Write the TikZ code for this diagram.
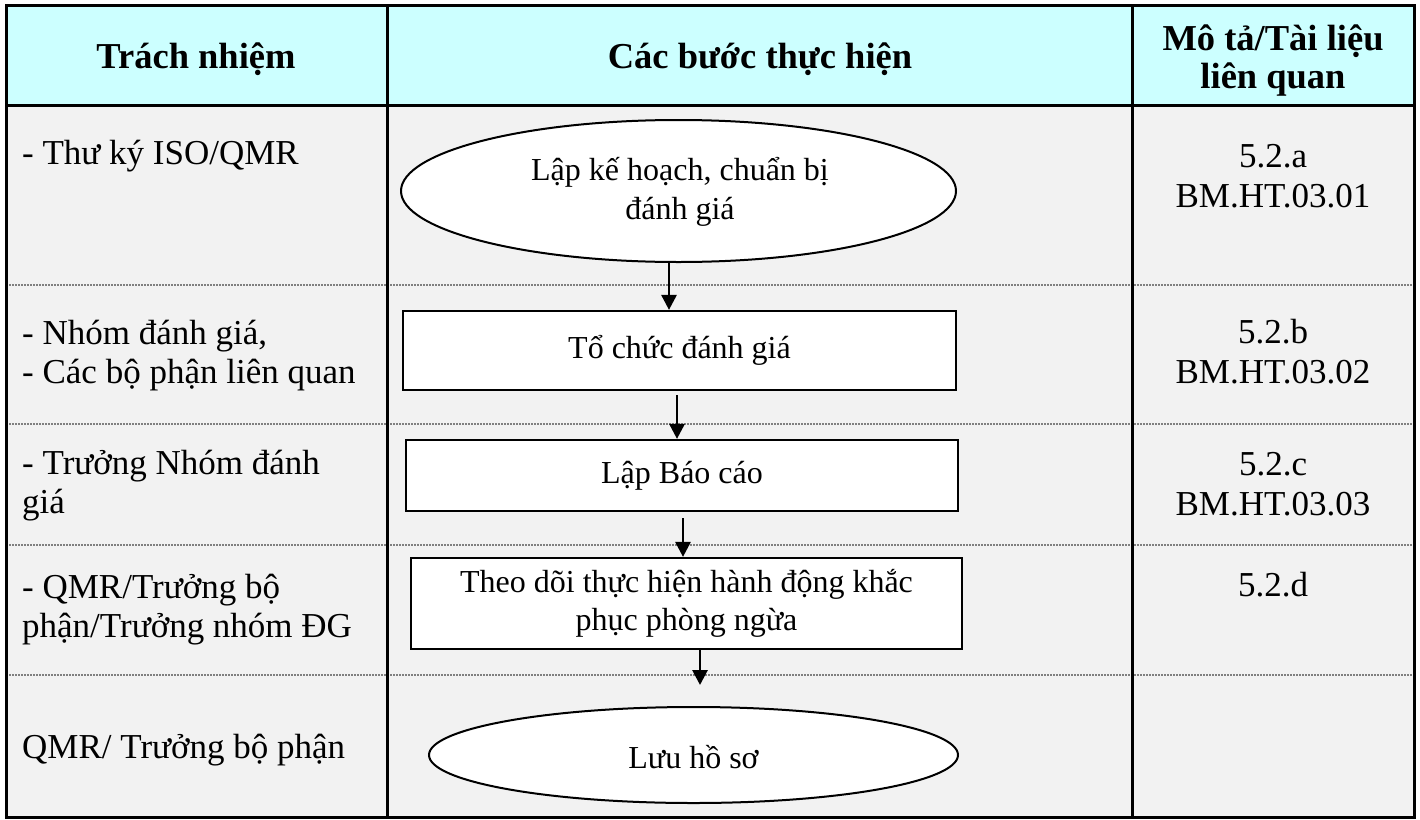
\documentclass[tikz,border=0pt]{standalone}
\usepackage{fontspec}
\setmainfont{Liberation Serif}
\usetikzlibrary{shapes.geometric,arrows.meta}
\definecolor{hdrfill}{HTML}{CCFFFF}
\definecolor{bodyfill}{HTML}{F2F2F2}
\definecolor{sepgray}{HTML}{808080}
\tikzset{
  body/.style={font=\fontsize{35}{39}\selectfont, inner sep=0pt},
  lefttxt/.style={body, anchor=west, align=left},
  righttxt/.style={body, align=center, font=\fontsize{35}{40}\selectfont},
  hdr/.style={font=\fontsize{36.5}{38}\selectfont\bfseries, align=center, inner sep=0pt},
  stepbox/.style={draw=black, line width=2.2pt, fill=white, font=\fontsize{32}{38}\selectfont, align=center, inner sep=0pt},
  oval/.style={draw=black, line width=2pt, fill=white, ellipse, inner sep=0pt},
  ovaltxt/.style={font=\fontsize{32}{39}\selectfont, align=center, inner sep=0pt},
  arr/.style={line width=2.8pt, -{Triangle[width=15pt,length=15pt]}},
  sep/.style={draw=sepgray, line width=1.5pt, dash pattern=on 1.5pt off 1.5pt},
  frame/.style={line width=3pt, draw=black}
}
\begin{document}
\begin{tikzpicture}[x=1pt,y=-1pt]
\useasboundingbox (0,0) rectangle (1420,819);
% backgrounds
\fill[bodyfill] (6,105) rectangle (1414,817);
\fill[hdrfill] (6,5) rectangle (1414,105);
% separators
\foreach \yy in {285,424,545,675} \draw[sep] (6,\yy) -- (1414,\yy);
% frame
\draw[frame] (6,5) rectangle (1414,817);
\draw[frame] (6,105) -- (1414,105);
\draw[frame] (387,5) -- (387,817);
\draw[frame] (1132,5) -- (1132,817);
% header
\node[hdr] (h1) at (196,59) {Trách nhiệm};
\node[hdr] (h2) at (760,59) {Các bước thực hiện};
\node[hdr] (h3) at (1273,61) {Mô tả/Tài liệu\\liên quan};
% left column
\node[lefttxt] (r1) at (22,156) {- Thư ký ISO/QMR};
\node[lefttxt] (r2) at (22,356) {- Nhóm đánh giá,\\- Các bộ phận liên quan};
\node[lefttxt] (r3) at (22,486) {- Trưởng Nhóm đánh\\giá};
\node[lefttxt] (r4) at (22,610) {- QMR/Trưởng bộ\\phận/Trưởng nhóm ĐG};
\node[lefttxt] (r5) at (22,750) {QMR/ Trưởng bộ phận};
% right column
\node[righttxt] (d1) at (1273,176) {5.2.a\\BM.HT.03.01};
\node[righttxt] (d2) at (1273,352) {5.2.b\\BM.HT.03.02};
\node[righttxt] (d3) at (1273,484) {5.2.c\\BM.HT.03.03};
\node[righttxt] (d4) at (1273,585) {5.2.d};
% flow
\node[oval, minimum width=555pt, minimum height=142pt] (e1) at (678.5,191) {};
\node[ovaltxt] (e1t) at (680,192) {Lập kế hoạch, chuẩn bị\\đánh giá};
\node[stepbox, minimum width=553pt, minimum height=79pt] (b2) at (679.5,350.5) {\raisebox{-4pt}{Tổ chức đánh giá}};
\node[stepbox, minimum width=552pt, minimum height=71pt] (b3) at (682,475.5) {Lập Báo cáo};
\node[stepbox, minimum width=551pt, minimum height=91pt] (b4) at (686.5,603.5) {Theo dõi thực hiện hành động khắc\\phục phòng ngừa};
\node[oval, minimum width=529pt, minimum height=96pt] (e2) at (693.5,755) {};
\node[ovaltxt] (e2t) at (693.5,757) {Lưu hồ sơ};
% arrows
\coordinate (a1) at (669,262);
\draw[arr] (a1) -- (a1 |- b2.north);
\coordinate (a2) at (677,395);
\draw[arr] (a2) -- (a2 |- b3.north);
\coordinate (a3) at (683,518);
\draw[arr] (a3) -- (a3 |- b4.north);
\coordinate (a4x) at (700,685);
\coordinate (a4) at (a4x |- b4.south);
\draw[arr] (a4) -- (a4x);
\end{tikzpicture}
\end{document}
